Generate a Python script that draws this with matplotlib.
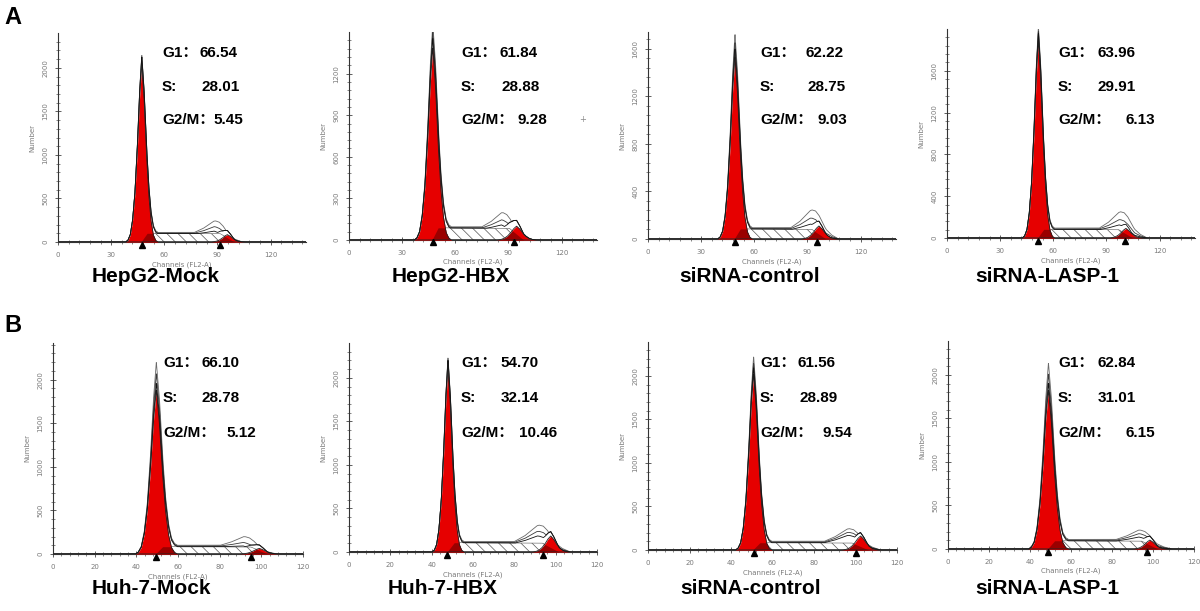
import numpy as np
import matplotlib.pyplot as plt
from matplotlib.transforms import ScaledTranslation

plt.rcParams['hatch.linewidth'] = 0.5
plt.rcParams['hatch.color'] = '#555555'

W, H = 1200, 611

# ---- data ----
names = ["HepG2-Mock", "HepG2-HBX", "siRNA-control", "siRNA-LASP-1",
         "Huh-7-Mock", "Huh-7-HBX", "siRNA-control", "siRNA-LASP-1"]
g1_pct = [66.54, 61.84, 62.22, 63.96, 66.10, 54.70, 61.56, 62.84]
s_pct = [28.01, 28.88, 28.75, 29.91, 28.78, 32.14, 28.89, 31.01]
g2m_pct = [5.45, 9.28, 9.03, 6.13, 5.12, 10.46, 9.54, 6.15]

x_max = [140, 140, 140, 140, 120, 120, 120, 120]
x_step = [30, 30, 30, 30, 20, 20, 20, 20]
y_max = [2400, 1500, 1740, 2000, 2420, 2400, 2390, 2390]
y_step = [500, 300, 400, 400, 500, 500, 500, 500]

# G1 peak: channel, red height, outline height, width (sd in channels)
g1_pos = [47.3, 47.3, 49.1, 51.6, 49.6, 47.9, 50.9, 49.0]
g1_red = [2050, 1390, 1535, 1900, 1885, 2130, 2030, 1830]
g1_top = [2080, 1496, 1661, 1965, 2134, 2168, 2165, 2065]
g1_sd = [2.6, 3.0, 2.8, 2.6, 2.9, 2.2, 2.5, 2.8]
# S phase level (hatched) and outline plateau
s_level = [100, 88, 85, 83, 84, 107, 84, 95]
s_out = [110, 95, 95, 95, 100, 120, 100, 110]
# G2/M peak
g2_pos = [95.6, 94.6, 96.5, 101.0, 99.0, 97.6, 102.4, 98.5]
g2_red = [85, 100, 110, 92, 65, 184, 161, 103]
g2_sd = [3.0, 3.5, 3.2, 3.0, 3.0, 2.8, 2.8, 2.6]
# outline bumps over G2 (three traces)
bump_pos = [91, 89, 94.6, 100, 94.3, 94, 99, 96]
bump_top = [[265, 200, 150], [216, 165, 130], [267, 200, 150], [274, 200, 150],
            [218, 150, 110], [337, 270, 220], [268, 230, 200], [238, 200, 165]]
# triangle gate markers
mark_g1 = [47.4, 47.3, 49.1, 51.4, 49.3, 47.4, 50.9, 48.6]
mark_g2 = [91.7, 93.0, 95.2, 100.4, 95.0, 94.0, 100.0, 96.9]

# peak profile traced from a G1 peak (offset in sd, fraction of height)
peak_dx = [-3.5, -3, -2.5, -2, -1.5, -1, -0.5, 0, 0.5, 1, 1.5, 2, 2.5, 3, 3.5]
peak_frac = [0, .01, .04, .12, .27, .5, .8, 1, .8, .5, .27, .12, .04, .01, 0]
# G2 outline bump profile (offset in channels, fraction)
bump_dx = [-14, -9, -5, -2, 0, 2, 5, 9, 13]
bump_frac = [0, .3, .65, .93, 1, .9, .55, .2, 0]

# ---- layout (pixels) ----
axes_box = [(58, 242, 248, 209), (349, 240, 248, 208), (648, 239, 248, 207), (947, 238, 248, 209),
            (53, 554, 250, 211), (349, 552, 248, 209), (648, 550, 249, 208), (948, 549, 246, 208)]
lab_x = [162, 461, 760, 1058, 163, 461, 760, 1058]
val_x = [[200, 202, 213], [499, 502, 518], [806, 808, 818], [1098, 1098, 1126],
         [201, 202, 226], [500, 501, 519], [798, 800, 822], [1097, 1098, 1126]]
row_y = [[53, 87, 120], [363, 398, 433]]
title_x = [156, 451, 750, 1047, 151, 443, 751, 1047]
title_y = [277, 589]

RED = '#e60000'
DARK = '#9a0000'
GREY = '#7a7a7a'
STAT_FONT = ['Liberation Sans', 'Noto Sans CJK SC']

fig = plt.figure(figsize=(W / 100, H / 100), dpi=100)


def fx(px):
    return px / W


def fy(py):
    return 1 - py / H


for i in range(8):
    left, base, w, h = axes_box[i]
    ax = fig.add_axes([fx(left), fy(base), w / W, h / H])
    x = np.linspace(0, x_max[i], 1400)

    g1 = np.interp((x - g1_pos[i]) / g1_sd[i], peak_dx, peak_frac)
    g2 = g2_red[i] * np.interp((x - g2_pos[i]) / g2_sd[i], peak_dx, peak_frac)
    s = np.interp(x, [g1_pos[i] - 0.5, g1_pos[i] + 3, g2_pos[i] - 4, g2_pos[i] + 4],
                  [0, s_level[i], s_level[i] * 0.95, 0], left=0, right=0)
    plateau = np.interp(x, [g1_pos[i] - 1.5 * g1_sd[i], g1_pos[i] + 2, bump_pos[i] - 3, bump_pos[i] + 6],
                        [0, s_out[i], s_out[i], 0], left=0, right=0)

    # S phase hatched
    ax.fill_between(x, 0, s, facecolor='white', edgecolor='#555555', hatch='\\\\\\',
                    lw=0.4, zorder=2)
    # G1 and G2 red peaks
    ax.fill_between(x, 0, g1 * g1_red[i], color=RED, lw=0, zorder=3)
    ax.plot(x, g1 * g1_red[i], color='#222222', lw=0.6, zorder=4)
    ax.fill_between(x, 0, g2, color=RED, lw=0, zorder=3)
    ax.plot(x, g2, color='#222222', lw=0.6, zorder=4)
    # overlap of S with peaks
    ax.fill_between(x, 0, np.minimum(s, g1 * g1_red[i]), color=DARK, lw=0, zorder=3.5)
    ax.fill_between(x, 0, np.minimum(s, g2), color=DARK, lw=0, zorder=3.5)

    # outline traces
    tops = [g1_top[i], (g1_top[i] + g1_red[i]) / 2, g1_red[i] * 1.01]
    line_cols = ['#6a6a6a', '#3a3a3a', '#111111']
    for k in range(3):
        bump = (bump_top[i][k] - s_out[i]) * np.interp(x - bump_pos[i], bump_dx, bump_frac)
        trace = g1 * tops[k] + plateau * (1 - 0.08 * k) + np.maximum(bump, 0)
        trace = np.maximum(trace, g2 + s)
        ax.plot(x, trace, color=line_cols[k], lw=0.6, zorder=5)

    ax.plot([mark_g1[i], mark_g2[i]], [0, 0], linestyle='none', marker='^', ms=5,
            color='black', clip_on=False, zorder=6,
            transform=ax.transData + ScaledTranslation(0, -2.5 / 100, fig.dpi_scale_trans))

    ax.set_xlim(0, x_max[i])
    ax.set_ylim(0, y_max[i])
    ax.set_xticks(np.arange(0, x_max[i] + 1, x_step[i]))
    ax.set_xticks(np.arange(0, x_max[i] + 1, x_step[i] / 5), minor=True)
    ax.set_yticks(np.arange(0, y_max[i], y_step[i]))
    ax.set_yticks(np.arange(0, y_max[i], y_step[i] / 5), minor=True)
    for sp in ['top', 'right']:
        ax.spines[sp].set_visible(False)
    for sp in ['left', 'bottom']:
        ax.spines[sp].set_color('#333333')
        ax.spines[sp].set_linewidth(0.8)
    ax.tick_params(which='major', direction='inout', length=4, width=0.6, color='#444444',
                   labelsize=5, labelcolor=GREY, pad=5)
    ax.tick_params(which='minor', direction='inout', length=2.5, width=0.5, color='#555555')
    ax.tick_params(axis='y', labelrotation=90)
    for lb in ax.get_yticklabels():
        lb.set_va('center')
    ax.set_ylabel('Number', fontsize=5, color=GREY)
    ax.yaxis.set_label_coords(-23 / w, 0.5)
    ax.set_xlabel('Channels (FL2-A)', fontsize=5, color=GREY)
    ax.xaxis.set_label_coords(0.5, -19 / h)

    # stats text
    ry = row_y[i // 4]
    labels = ['G1\uff1a', 'S:', 'G2/M\uff1a']
    vals = [g1_pct[i], s_pct[i], g2m_pct[i]]
    for r in range(3):
        fig.text(fx(lab_x[i]), fy(ry[r]), labels[r], fontsize=11, fontweight='bold',
                 family=STAT_FONT, va='center', ha='left')
        fig.text(fx(val_x[i][r]), fy(ry[r]), '%.2f' % vals[r], fontsize=11, fontweight='bold',
                 family=STAT_FONT, va='center', ha='left')

    fig.text(fx(title_x[i]), fy(title_y[i // 4]), names[i], fontsize=15, fontweight='bold',
             family='Liberation Sans', ha='center', va='center')

fig.text(fx(583), fy(120), '+', fontsize=6, color='#888888', ha='center', va='center')
fig.text(fx(4), fy(17), 'A', fontsize=17, fontweight='bold', family='Liberation Sans',
         ha='left', va='center')
fig.text(fx(4), fy(326), 'B', fontsize=17, fontweight='bold', family='Liberation Sans',
         ha='left', va='center')

fig.savefig('out.png', dpi=100)
